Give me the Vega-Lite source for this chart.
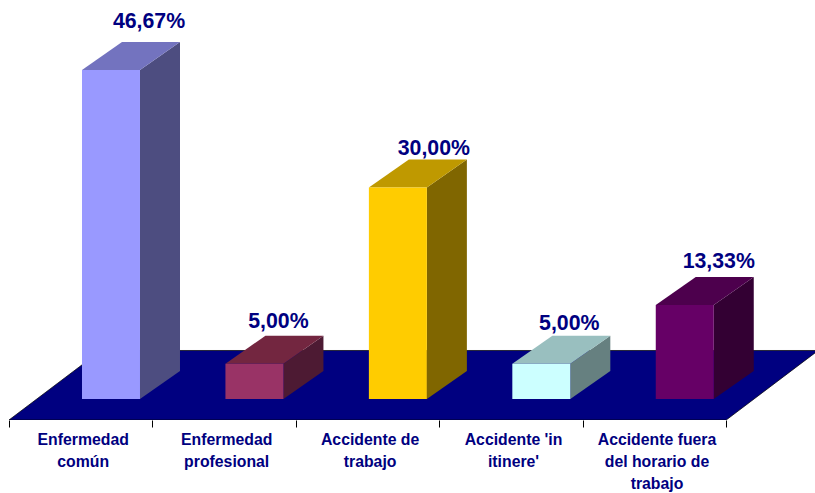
{
  "$schema": "https://vega.github.io/schema/vega-lite/v6.json",
  "autosize": {"type": "none"},
  "padding": {"left": 9, "top": 0, "right": 0, "bottom": 73},
  "width": 806,
  "height": 420,
  "background": "white",
  "config": {"view": {"stroke": null}},
  "datasets": {
    "bars": [
      {"order": 0, "category": "Enfermedad común", "value": 46.67, "label": "46,67%"},
      {"order": 1, "category": "Enfermedad profesional", "value": 5.0, "label": "5,00%"},
      {"order": 2, "category": "Accidente de trabajo", "value": 30.0, "label": "30,00%"},
      {"order": 3, "category": "Accidente 'in itinere'", "value": 5.0, "label": "5,00%"},
      {"order": 4, "category": "Accidente fuera del horario de trabajo", "value": 13.33, "label": "13,33%"}
    ],
    "floor": [{"edge": 0}, {"edge": 1}]
  },
  "resolve": {"scale": {"color": "independent"}},
  "layer": [
    {
      "data": {"name": "floor"},
      "transform": [
        {"calculate": "-2.979 + datum.edge * 9.86", "as": "fy"},
        {"calculate": "datum.edge * 0.6414", "as": "fx"},
        {"calculate": "5 + datum.edge * 0.6414", "as": "fx2"}
      ],
      "mark": {"type": "area", "orient": "horizontal", "color": "#000080", "stroke": "#000000", "strokeWidth": 0.7, "clip": true},
      "encoding": {
        "y": {"field": "fy", "type": "quantitative", "scale": {"domain": [-2.979, 56.596], "nice": false, "zero": false}, "axis": null},
        "x": {
          "field": "fx", "type": "quantitative",
          "scale": {"domain": [0, 5.619], "nice": false, "zero": false},
          "axis": {
            "title": null,
            "grid": false,
            "values": [0, 0.5, 1, 1.5, 2, 2.5, 3, 3.5, 4, 4.5, 5],
            "domain": false,
            "tickColor": "#000000",
            "tickSize": 7,
            "tickOpacity": {"condition": {"test": "datum.value % 1 == 0", "value": 1}, "value": 0},
            "labelExpr": "datum.value % 1 == 0 ? '' : split(['Enfermedad|común','Enfermedad|profesional','Accidente de|trabajo','Accidente \\'in|itinere\\'','Accidente fuera|del horario de|trabajo'][floor(datum.value)], '|')",
            "labelFont": "Liberation Sans",
            "labelFontSize": 15.8,
            "labelFontWeight": "bold",
            "labelColor": "#000080",
            "labelAngle": 0,
            "labelAlign": "center",
            "labelBaseline": "top",
            "labelPadding": 5.5,
            "labelOffset": 2,
            "labelLineHeight": 22,
            "labelOverlap": false,
            "labelBound": false,
            "labelFlush": false
          }
        },
        "x2": {"field": "fx2"}
      }
    },
    {
      "data": {"name": "bars"},
      "transform": [
        {"calculate": "[0, 1]", "as": "t"},
        {"flatten": ["t"]},
        {"calculate": "datum.order + 0.9132 + datum.t * 0.2789", "as": "sx"},
        {"calculate": "datum.value + datum.t * 3.97", "as": "sy"},
        {"calculate": "datum.t * 3.97", "as": "sy2"}
      ],
      "mark": {"type": "area", "orient": "vertical"},
      "encoding": {
        "x": {"field": "sx", "type": "quantitative"},
        "y": {"field": "sy", "type": "quantitative"},
        "y2": {"field": "sy2"},
        "color": {
          "field": "category", "type": "nominal", "legend": null,
          "scale": {
            "domain": ["Enfermedad común", "Enfermedad profesional", "Accidente de trabajo", "Accidente 'in itinere'", "Accidente fuera del horario de trabajo"],
            "range": ["#4D4D80", "#4D1A33", "#806600", "#668080", "#330033"]
          }
        }
      }
    },
    {
      "data": {"name": "bars"},
      "transform": [
        {"calculate": "[0, 1]", "as": "t"},
        {"flatten": ["t"]},
        {"calculate": "datum.order + 0.5089 + datum.t * 0.2789", "as": "tx"},
        {"calculate": "datum.order + 0.9132 + datum.t * 0.2789", "as": "tx2"},
        {"calculate": "datum.value + datum.t * 3.97", "as": "ty"}
      ],
      "mark": {"type": "area", "orient": "horizontal"},
      "encoding": {
        "y": {"field": "ty", "type": "quantitative"},
        "x": {"field": "tx", "type": "quantitative"},
        "x2": {"field": "tx2"},
        "color": {
          "field": "category", "type": "nominal", "legend": null,
          "scale": {
            "domain": ["Enfermedad común", "Enfermedad profesional", "Accidente de trabajo", "Accidente 'in itinere'", "Accidente fuera del horario de trabajo"],
            "range": ["#7373BF", "#732640", "#BF9900", "#99BFBF", "#4D004D"]
          }
        }
      }
    },
    {
      "data": {"name": "bars"},
      "transform": [
        {"calculate": "datum.order + 0.5089", "as": "fx"},
        {"calculate": "datum.order + 0.9132", "as": "fx2"},
        {"calculate": "0", "as": "base"}
      ],
      "mark": {"type": "rect"},
      "encoding": {
        "x": {"field": "fx", "type": "quantitative"},
        "x2": {"field": "fx2"},
        "y": {"field": "value", "type": "quantitative"},
        "y2": {"field": "base"},
        "color": {
          "field": "category", "type": "nominal", "legend": null,
          "scale": {
            "domain": ["Enfermedad común", "Enfermedad profesional", "Accidente de trabajo", "Accidente 'in itinere'", "Accidente fuera del horario de trabajo"],
            "range": ["#9999FF", "#993366", "#FFCC00", "#CCFFFF", "#660066"]
          }
        }
      }
    },
    {
      "data": {"name": "bars"},
      "transform": [
        {"calculate": "datum.order + 0.5089 + [0.467, 0.369, 0.453, 0.397, 0.439][datum.order]", "as": "lx"},
        {"calculate": "datum.value + [5.96, 5.05, 4.58, 4.82, 5.2][datum.order]", "as": "ly"}
      ],
      "mark": {"type": "text", "font": "Liberation Sans", "fontSize": 21.3, "fontWeight": "bold", "color": "#000080", "align": "center", "baseline": "alphabetic"},
      "encoding": {
        "x": {"field": "lx", "type": "quantitative"},
        "y": {"field": "ly", "type": "quantitative"},
        "text": {"field": "label"}
      }
    }
  ]
}
